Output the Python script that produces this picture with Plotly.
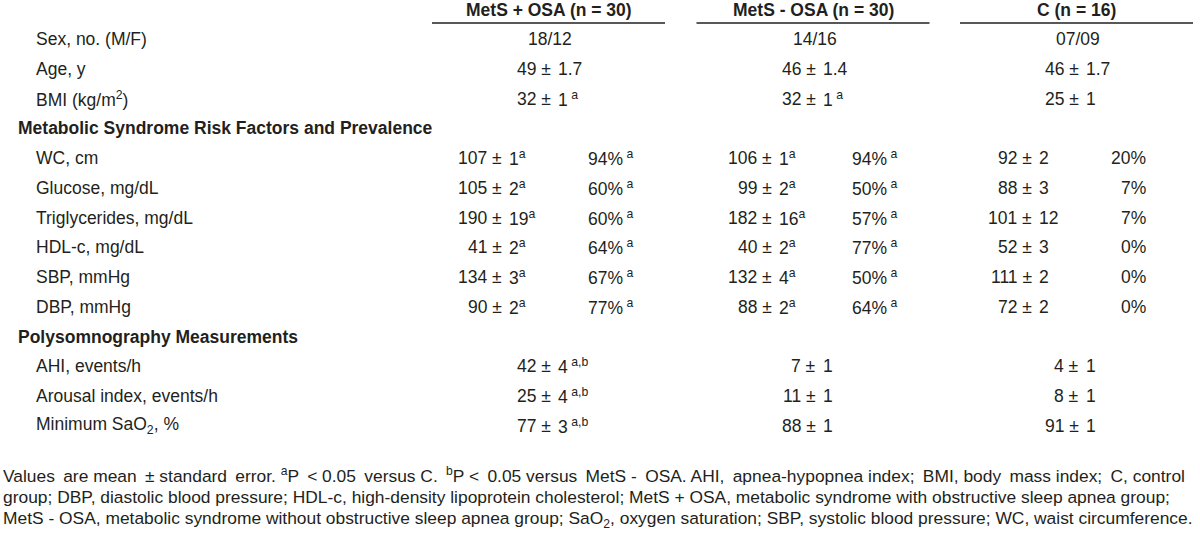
import plotly.graph_objects as go

# ---------------- data ----------------
group_titles = ["MetS + OSA (n = 30)", "MetS - OSA (n = 30)", "C (n = 16)"]

top_labels = ["Sex, no. (M/F)", "Age, y", "BMI (kg/m<sup>2</sup>)"]
sex_mf = ["18/12", "14/16", "07/09"]
age_mean = ["49", "46", "46"]
age_se = ["1.7", "1.4", "1.7"]
bmi_mean = ["32", "32", "25"]
bmi_se = ["1", "1", "1"]
bmi_sig = ["a", "a", ""]

section_titles = ["Metabolic Syndrome Risk Factors and Prevalence", "Polysomnography Measurements"]

risk_labels = ["WC, cm", "Glucose, mg/dL", "Triglycerides, mg/dL", "HDL-c, mg/dL",
               "SBP, mmHg", "DBP, mmHg"]
osa_mean = [107, 105, 190, 41, 134, 90]
osa_se = [1, 2, 19, 2, 3, 2]
osa_prev = [94, 60, 60, 64, 67, 77]
nosa_mean = [106, 99, 182, 40, 132, 88]
nosa_se = [1, 2, 16, 2, 4, 2]
nosa_prev = [94, 50, 57, 77, 50, 64]
ctrl_mean = [92, 88, 101, 52, 111, 72]
ctrl_se = [2, 3, 12, 3, 2, 2]
ctrl_prev = [20, 7, 7, 0, 0, 0]
risk_sig = ["a", "a", ""]

psg_labels = ["AHI, events/h", "Arousal index, events/h", "Minimum SaO<sub>2</sub>, %"]
psg_osa_mean = [42, 25, 77]
psg_osa_se = [4, 4, 3]
psg_nosa_mean = [7, 11, 88]
psg_nosa_se = [1, 1, 1]
psg_ctrl_mean = [4, 8, 91]
psg_ctrl_se = [1, 1, 1]
psg_sig = ["a,b", "", ""]

footnote_lines = [
    "Values are mean \u00b1 standard error. <sup>a</sup>P < 0.05 versus C. <sup>b</sup>P < 0.05 versus MetS - OSA. "
    "AHI, apnea-hypopnea index; BMI, body mass index; C, control",
    "group; DBP, diastolic blood pressure; HDL-c, high-density lipoprotein cholesterol; "
    "MetS + OSA, metabolic syndrome with obstructive sleep apnea group;",
    "MetS - OSA, metabolic syndrome without obstructive sleep apnea group; SaO<sub>2</sub>, oxygen saturation; "
    "SBP, systolic blood pressure; WC, waist circumference.",
]

# ---------------- layout constants ----------------
W, H = 1200, 538
INK = "#231f20"
TFONT = "Liberation Sans, Arial, sans-serif"
FFONT = "Liberation Sans, Arial, sans-serif"
TSIZE = 17.5
FSIZE = 17.4

HEADER_Y = 9.5
RULE_Y = 23
ROW_Y0 = 39
ROW_H = 29.75
FOOT_Y0 = 475
FOOT_DY = 22

LABEL_X = 35
SECTION_X = 17
FOOT_X = 2
GROUP_CENTER = [548.5, 813, 1076.5]
GROUP_HALF = 116.5
PM_SINGLE = [547, 812, 1075]
PM_SPLIT = [498, 768, 1028]
PCT_LEFT = [587, 851, None]
PCT_RIGHT = [622, 886, 1147]
PM_HALF = 5.1
SPACE = 4.9

annotations = []


def txt(x, y, text, anchor="left", size=TSIZE, bold=False, family=TFONT):
    annotations.append(dict(
        x=x, y=y, xref="x", yref="y", text=("<b>%s</b>" % text) if bold else text,
        showarrow=False, xanchor=anchor, yanchor="middle",
        font=dict(family=family, size=size, color=INK), borderpad=0,
    ))


def sup(s):
    return "\u2009<sup>%s</sup>" % s if s else ""


def pm_cell(xc, y, mean, se, sig, tight=False):
    # align on the plus-minus sign
    txt(xc + PM_HALF, y, "%s \u00b1" % mean, anchor="right")
    s = ("<sup>%s</sup>" % sig) if (tight and sig) else sup(sig)
    txt(xc + PM_HALF + SPACE, y, "%s%s" % (se, s), anchor="left")


def row_y(i):
    return ROW_Y0 + i * ROW_H


def justify_first(line, every=2):
    # widen some word gaps (the reference footnote is justified)
    parts = line.split(" ")
    out = parts[0]
    for k, p in enumerate(parts[1:]):
        gap = " \u2009" if k % every == 0 else " "
        out += gap + p
    return out


# header
for g, title in enumerate(group_titles):
    txt(GROUP_CENTER[g], HEADER_Y, title, anchor="center", bold=True)

# top rows
for i, lab in enumerate(top_labels):
    txt(LABEL_X, row_y(i), lab)
for g in range(3):
    txt(GROUP_CENTER[g] + 1.5, row_y(0), sex_mf[g], anchor="center")
    pm_cell(PM_SINGLE[g], row_y(1), age_mean[g], age_se[g], "")
    pm_cell(PM_SINGLE[g], row_y(2), bmi_mean[g], bmi_se[g], bmi_sig[g])

# section 1
txt(SECTION_X, row_y(3), section_titles[0], bold=True)
means = [osa_mean, nosa_mean, ctrl_mean]
ses = [osa_se, nosa_se, ctrl_se]
prevs = [osa_prev, nosa_prev, ctrl_prev]
for i, lab in enumerate(risk_labels):
    y = row_y(4 + i)
    txt(LABEL_X, y, lab)
    for g in range(3):
        pm_cell(PM_SPLIT[g], y, means[g][i], ses[g][i], risk_sig[g], tight=True)
        if risk_sig[g]:
            txt(PCT_LEFT[g], y, "%d%%%s" % (prevs[g][i], sup(risk_sig[g])), anchor="left")
        else:
            txt(PCT_RIGHT[g], y, "%d%%" % prevs[g][i], anchor="right")

# section 2
txt(SECTION_X, row_y(10), section_titles[1], bold=True)
pmeans = [psg_osa_mean, psg_nosa_mean, psg_ctrl_mean]
pses = [psg_osa_se, psg_nosa_se, psg_ctrl_se]
for i, lab in enumerate(psg_labels):
    y = row_y(11 + i)
    txt(LABEL_X, y, lab)
    for g in range(3):
        pm_cell(PM_SINGLE[g], y, pmeans[g][i], pses[g][i], psg_sig[g])

# footnote
for k, line in enumerate(footnote_lines):
    text = justify_first(line, every=2) if k == 0 else line
    txt(FOOT_X, FOOT_Y0 + k * FOOT_DY, text, size=FSIZE, family=FFONT)

# group rules
shapes = []
for g in range(3):
    shapes.append(dict(type="line", xref="x", yref="y",
                       x0=GROUP_CENTER[g] - GROUP_HALF, x1=GROUP_CENTER[g] + GROUP_HALF,
                       y0=RULE_Y, y1=RULE_Y, line=dict(color=INK, width=1.5)))

fig = go.Figure()
fig.add_trace(go.Scatter(x=[0, W], y=[0, H], mode="markers",
                         marker=dict(opacity=0), hoverinfo="skip", showlegend=False))
fig.update_layout(
    width=W, height=H, margin=dict(l=0, r=0, t=0, b=0),
    paper_bgcolor="white", plot_bgcolor="white",
    xaxis=dict(range=[0, W], visible=False, fixedrange=True),
    yaxis=dict(range=[H, 0], visible=False, fixedrange=True),
    annotations=annotations, shapes=shapes, showlegend=False,
)
fig.write_html("out.html", config={"displayModeBar": False},
               post_script="document.body.style.margin='0px';document.body.style.overflow='hidden';")
